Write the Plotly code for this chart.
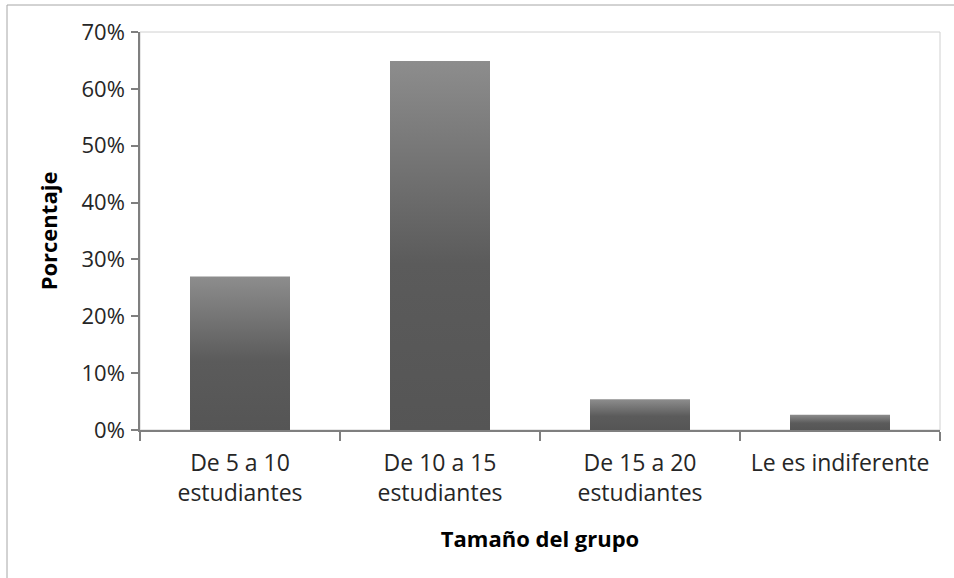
import plotly.graph_objects as go

categories = ["De 5 a 10<br>estudiantes", "De 10 a 15<br>estudiantes",
              "De 15 a 20<br>estudiantes", "Le es indiferente"]
values = [0.270, 0.649, 0.054, 0.027]
y_ticks = [0, 0.1, 0.2, 0.3, 0.4, 0.5, 0.6, 0.7]

BAR_W = 0.5
FONT = "Open Sans"

fig = go.Figure()
for i, v in enumerate(values):
    x0, x1 = i - BAR_W / 2, i + BAR_W / 2
    fig.add_trace(go.Scatter(
        x=[x0, x1, x1, x0, x0], y=[0, 0, v, v, 0],
        mode="lines", line=dict(width=0), fill="toself",
        fillgradient=dict(type="vertical", start=0, stop=v,
                          colorscale=[[0, "#555555"], [0.45, "#5b5b5b"], [1, "#8d8d8d"]]),
        showlegend=False, hoverinfo="skip"))

fig.update_layout(
    width=954, height=578,
    margin=dict(l=140, r=14, t=32, b=148),
    plot_bgcolor="white", paper_bgcolor="white",
    font=dict(family=FONT, color="#262626", size=22),
    showlegend=False,
    shapes=[
        dict(type="rect", xref="paper", yref="paper", x0=0, x1=1, y0=0, y1=1,
             line=dict(color="#d0d0d0", width=1), layer="below"),
        dict(type="rect", xref="paper", yref="paper", x0=-0.16625, x1=1.03, y0=-0.41, y1=1.0678,
             line=dict(color="#a6a6a6", width=1), layer="below"),
    ],
)
fig.update_xaxes(
    range=[-0.5, 3.5], tickmode="array", tickvals=list(range(len(categories))),
    ticktext=categories, ticks="", showgrid=False, zeroline=False,
    showline=True, linecolor="#7f7f7f", linewidth=1.5,
    tickfont=dict(size=23, color="#262626"), ticklabelstandoff=12,
    minor=dict(tickmode="array", tickvals=[i - 0.5 for i in range(len(categories) + 1)],
               ticks="outside", ticklen=9, tickcolor="#7f7f7f", tickwidth=1.5, showgrid=False),
    title=dict(text="<b>Tamaño del grupo</b>", font=dict(size=22, color="#000000"), standoff=24),
)
fig.update_yaxes(
    range=[0, 0.7], tickmode="array", tickvals=y_ticks, tickformat=".0%",
    ticks="outside", ticklen=7, tickcolor="#7f7f7f", tickwidth=1.5,
    showgrid=False, zeroline=False, showline=True, linecolor="#7f7f7f", linewidth=1.5,
    tickfont=dict(size=22, color="#262626"), ticklabelstandoff=2,
    title=dict(text="<b>Porcentaje</b>", font=dict(size=22, color="#000000"), standoff=18),
)

fig.write_html("out.html", config={"displayModeBar": False},
               post_script="document.body.style.margin='0';")
